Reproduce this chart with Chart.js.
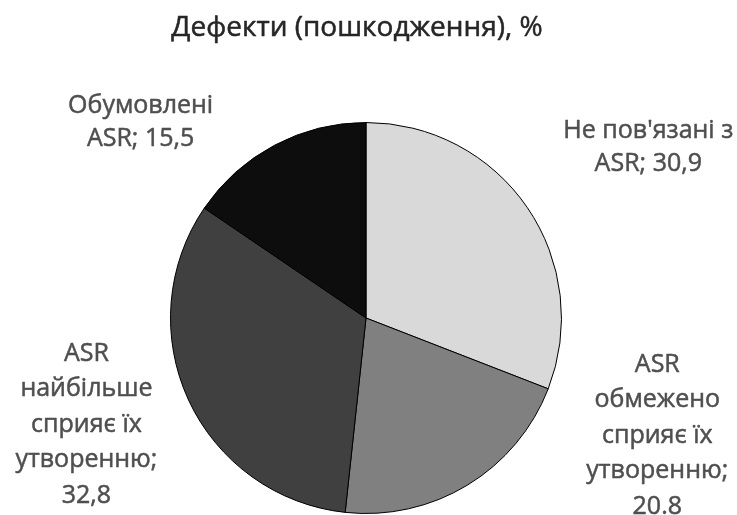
<!DOCTYPE html>
<html>
<head>
<meta charset="utf-8">
<style>
  html, body { margin: 0; padding: 0; background: #fff; }
  #wrap { width: 737px; height: 515px; position: relative; }
</style>
<script src="https://cdn.jsdelivr.net/npm/chart.js@4/dist/chart.umd.min.js"></script>
</head>
<body>
<div id="wrap"><canvas id="defectsChart"></canvas></div>
<script>
  const chartTitle = "Дефекти (пошкодження), %";
  const categories = [
    ["Не пов'язані з", "ASR"],
    ["ASR", "обмежено", "сприяє їх", "утворенню"],
    ["ASR", "найбільше", "сприяє їх", "утворенню"],
    ["Обумовлені", "ASR"],
  ];
  const shares = [30.9, 20.8, 32.8, 15.5];
  const decimalMarks = [",", ".", ",", ","];
  const sliceColors = ["#d9d9d9", "#808080", "#404040", "#0d0d0d"];

  // label block placement, in units of the pie radius from its centre
  // (x = text centre, y = first baseline)
  const labelAnchors = [
    [1.444, -0.923],
    [1.49, 0.276],
    [-1.43, 0.219],
    [-1.153, -1.051],
  ];

  const FONT = "'Open Sans', 'Noto Sans', sans-serif";

  // Join the category lines with the value: the value sits on the last
  // line after "; " when the category is short, otherwise on its own line
  function labelLines(i) {
    const lines = categories[i].slice();
    const val = String(shares[i]).replace(".", decimalMarks[i]);
    if (lines.length <= 2) {
      lines[lines.length - 1] += "; " + val;
    } else {
      lines[lines.length - 1] += ";";
      lines.push(val);
    }
    return lines;
  }

  // filled text with a hairline outline so the strokes read a bit heavier
  function boldishText(ctx, text, x, y) {
    ctx.fillText(text, x, y);
    ctx.strokeText(text, x, y);
  }

  const textPlugin = {
    id: "pieText",
    afterDraw(chart) {
      const ctx = chart.ctx;
      ctx.save();
      ctx.textAlign = "center";
      ctx.textBaseline = "alphabetic";
      ctx.lineWidth = 0.5;
      ctx.lineJoin = "round";

      ctx.fillStyle = ctx.strokeStyle = "#262626";
      ctx.font = "28px " + FONT;
      boldishText(ctx, chartTitle, 357, 36);

      const meta = chart.getDatasetMeta(0);
      ctx.fillStyle = ctx.strokeStyle = "#4f4f4f";
      ctx.font = "25px " + FONT;
      meta.data.forEach((arc, i) => {
        const r = arc.outerRadius;
        const x = arc.x + labelAnchors[i][0] * r;
        let y = arc.y + labelAnchors[i][1] * r;
        const lines = labelLines(i);
        const lh = lines.length > 2 ? 35.5 : 33;
        lines.forEach((line) => {
          boldishText(ctx, line, x, y);
          y += lh;
        });
      });
      ctx.restore();
    },
  };

  new Chart(document.getElementById("defectsChart").getContext("2d"), {
    type: "pie",
    data: {
      labels: categories.map((c) => c.join(" ")),
      datasets: [
        {
          data: shares,
          backgroundColor: sliceColors,
          borderColor: "#000000",
          borderWidth: 1,
        },
      ],
    },
    options: {
      responsive: true,
      maintainAspectRatio: false,
      animation: false,
      layout: {
        padding: { left: 170, right: 175, top: 122, bottom: 1 },
      },
      plugins: {
        legend: { display: false },
        title: { display: false },
        tooltip: { enabled: false },
      },
    },
    plugins: [textPlugin],
  });
</script>
</body>
</html>
